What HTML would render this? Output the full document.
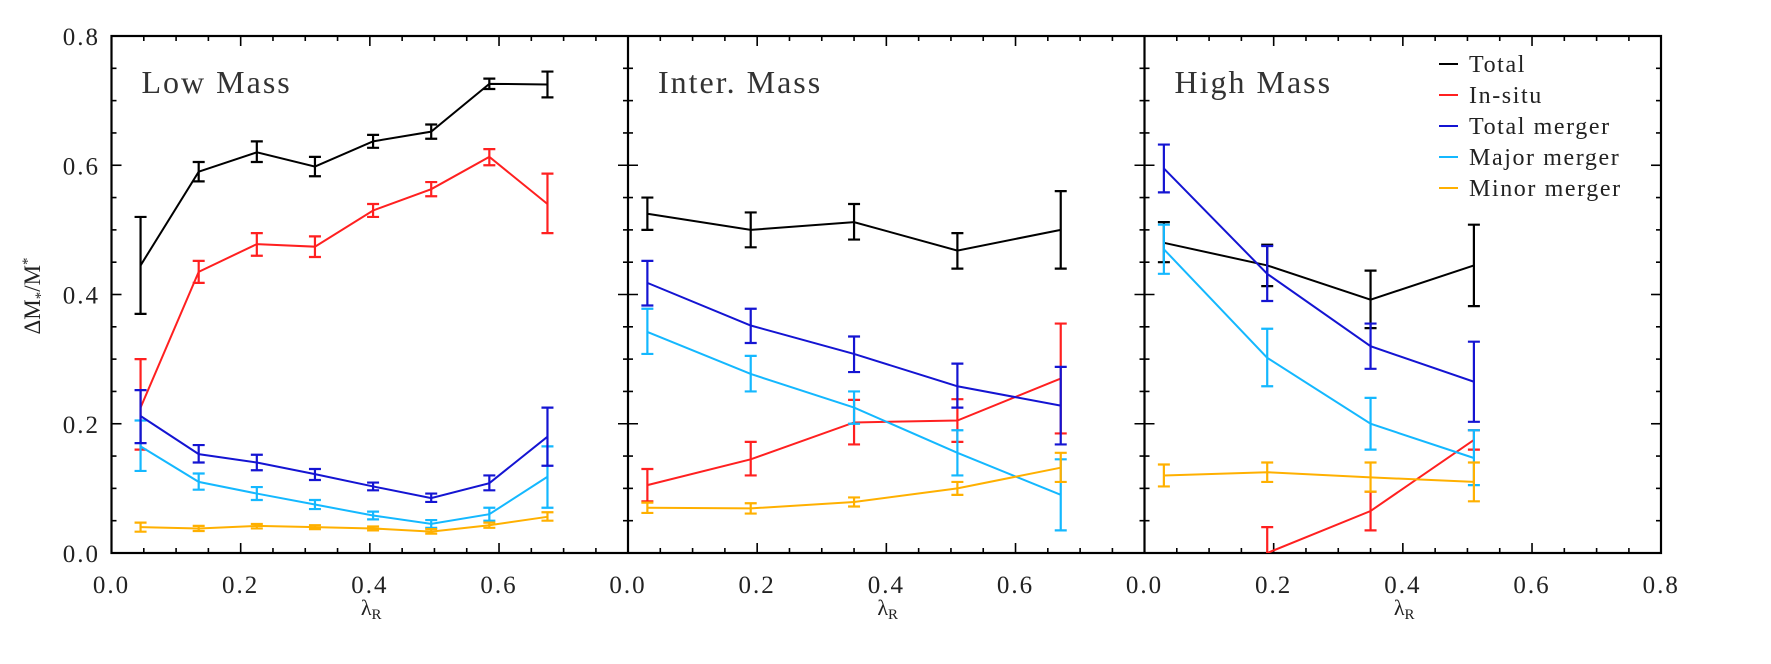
<!DOCTYPE html>
<html><head><meta charset="utf-8"><style>
html,body{margin:0;padding:0;background:#fff;overflow:hidden;width:1771px;height:664px;}
svg{display:block;font-family:"Liberation Serif",serif;}
</style></head><body>
<svg id="s" width="1771" height="664" xmlns="http://www.w3.org/2000/svg"></svg>
<script>
const S=document.getElementById('s');let h='';
const X0=[111.5,628,1144.5],W=516.7,YT=36,YB=553;
const Y=v=>YB-(v/0.8)*(YB-YT);
h+=`<rect x="111.5" y="36" width="${1661-111.5}" height="${YB-YT}" fill="none" stroke="#000" stroke-width="2.2"/>`;
for(let p=0;p<3;p++){const x0=X0[p];
 if(p>0)h+=`<line x1="${x0}" y1="${YT}" x2="${x0}" y2="${YB}" stroke="#000" stroke-width="2.2"/>`;
 for(let i=0;i<=16;i++){const x=x0+i*W/16,l=(i%4==0)?10:5;
  if(i>0&&i<16){h+=`<line x1="${x}" y1="${YB}" x2="${x}" y2="${YB-l}" stroke="#000" stroke-width="1.6"/><line x1="${x}" y1="${YT}" x2="${x}" y2="${YT+l}" stroke="#000" stroke-width="1.6"/>`;}
  if(i%4==0&&(i<16||p==2))h+=`<text x="${x}" y="593" font-size="25" letter-spacing="2" text-anchor="middle" fill="#222">${(i*0.05).toFixed(1)}</text>`;}
 h+=`<text x="${x0+W/2-9}" y="615" font-size="22" fill="#222">λ<tspan font-size="15" dy="4">R</tspan></text>`;
}
const XE=[111.5,628,1144.5,1661];
for(let i=1;i<16;i++){const y=YB-i*(YB-YT)/16,l=(i%4==0)?10:5;
 XE.forEach((x,k)=>{const a=k==0?x:x-l,b=k==3?x:x+l;h+=`<line x1="${a}" y1="${y}" x2="${b}" y2="${y}" stroke="#000" stroke-width="1.6"/>`;});}
for(let i=0;i<=4;i++)h+=`<text x="100" y="${Y(i*0.2)+9}" font-size="25" letter-spacing="2" text-anchor="end" fill="#222">${(i*0.2).toFixed(1)}</text>`;
h+=`<text transform="translate(40,296) rotate(-90)" font-size="23" text-anchor="middle" fill="#222">ΔM<tspan font-size="15" dy="5">*</tspan><tspan dy="-5">/M</tspan><tspan font-size="15" dy="-8">*</tspan></text>`;
const titles=['Low Mass','Inter. Mass','High Mass'];
titles.forEach((t,p)=>h+=`<text x="${X0[p]+30}" y="93" font-size="32" letter-spacing="2" fill="#333">${t}</text>`);
const C={k:'#000',r:'#ff2020',b:'#1414d2',c:'#14b8ff',o:'#ffb000'};
const D=[
{x:[0.045,0.135,0.225,0.315,0.405,0.495,0.585,0.675],s:[
['k',[[.445,.37,.52],[.59,.575,.605],[.62,.605,.637],[.598,.583,.613],[.637,.627,.647],[.652,.641,.663],[.726,.718,.734],[.725,.705,.745]]],
['r',[[.225,.16,.30],[.435,.418,.452],[.478,.46,.495],[.474,.458,.49],[.53,.52,.54],[.563,.552,.574],[.613,.6,.625],[.54,.495,.587]]],
['c',[[.165,.127,.205],[.11,.098,.123],[.092,.082,.102],[.075,.068,.082],[.058,.052,.064],[.045,.039,.051],[.06,.05,.07],[.118,.07,.165]]],
['b',[[.212,.17,.252],[.153,.14,.167],[.14,.128,.152],[.122,.113,.13],[.103,.097,.109],[.085,.079,.092],[.108,.097,.12],[.18,.135,.225]]],
['o',[[.04,.033,.047],[.038,.034,.042],[.042,.038,.045],[.04,.037,.043],[.038,.035,.041],[.033,.03,.037],[.043,.039,.047],[.056,.05,.063]]]]},
{x:[0.03,0.19,0.35,0.51,0.67],s:[
['k',[[.525,.5,.55],[.5,.473,.527],[.512,.485,.54],[.468,.44,.495],[.5,.44,.56]]],
['r',[[.105,.08,.13],[.145,.12,.172],[.202,.168,.237],[.205,.172,.238],[.27,.185,.355]]],
['c',[[.342,.308,.378],[.277,.25,.305],[.225,.2,.25],[.155,.12,.19],[.09,.035,.145]]],
['b',[[.418,.383,.452],[.352,.325,.378],[.308,.28,.335],[.258,.225,.293],[.228,.168,.288]]],
['o',[[.07,.062,.078],[.069,.061,.077],[.079,.072,.086],[.1,.09,.11],[.132,.11,.155]]]]},
{x:[0.03,0.19,0.35,0.51],s:[
['k',[[.48,.45,.512],[.445,.413,.477],[.392,.348,.437],[.445,.382,.508]]],
['r',[[-.3,-.3,-.3],[0,-.04,.04],[.065,.035,.095],[.175,.16,.19]]],
['c',[[.47,.432,.508],[.302,.258,.347],[.2,.16,.24],[.147,.105,.19]]],
['b',[[.595,.558,.632],[.432,.39,.475],[.32,.285,.355],[.265,.203,.327]]],
['o',[[.12,.103,.137],[.125,.11,.14],[.117,.095,.14],[.11,.08,.14]]]]}];
h+=`<defs>${[0,1,2].map(p=>`<clipPath id="c${p}"><rect x="${X0[p]}" y="${YT}" width="${W}" height="${YB-YT}"/></clipPath>`).join('')}</defs>`;
D.forEach((d,p)=>{const px=v=>X0[p]+v/0.8*W;h+=`<g clip-path="url(#c${p})">`;
 d.s.forEach(([c,pts])=>{const col=C[c];
  h+=`<polyline fill="none" stroke="${col}" stroke-width="2" points="${pts.map((q,i)=>px(d.x[i])+','+Y(q[0])).join(' ')}"/>`;
  pts.forEach((q,i)=>{if(q[1]==q[2])return;const x=px(d.x[i]);
   h+=`<path d="M${x} ${Y(q[1])}V${Y(q[2])}M${x-6} ${Y(q[1])}H${x+6}M${x-6} ${Y(q[2])}H${x+6}" stroke="${col}" stroke-width="2.2" fill="none"/>`;});});
 h+='</g>';});
const L=[['k','Total'],['r','In-situ'],['b','Total merger'],['c','Major merger'],['o','Minor merger']];
L.forEach(([c,t],i)=>{const y=64+i*31;h+=`<line x1="1439" y1="${y}" x2="1458" y2="${y}" stroke="${C[c]}" stroke-width="2"/><text x="1469" y="${y+8}" font-size="24" letter-spacing="1.6" fill="#222">${t}</text>`;});
S.innerHTML=h;
</script>
</body></html>
